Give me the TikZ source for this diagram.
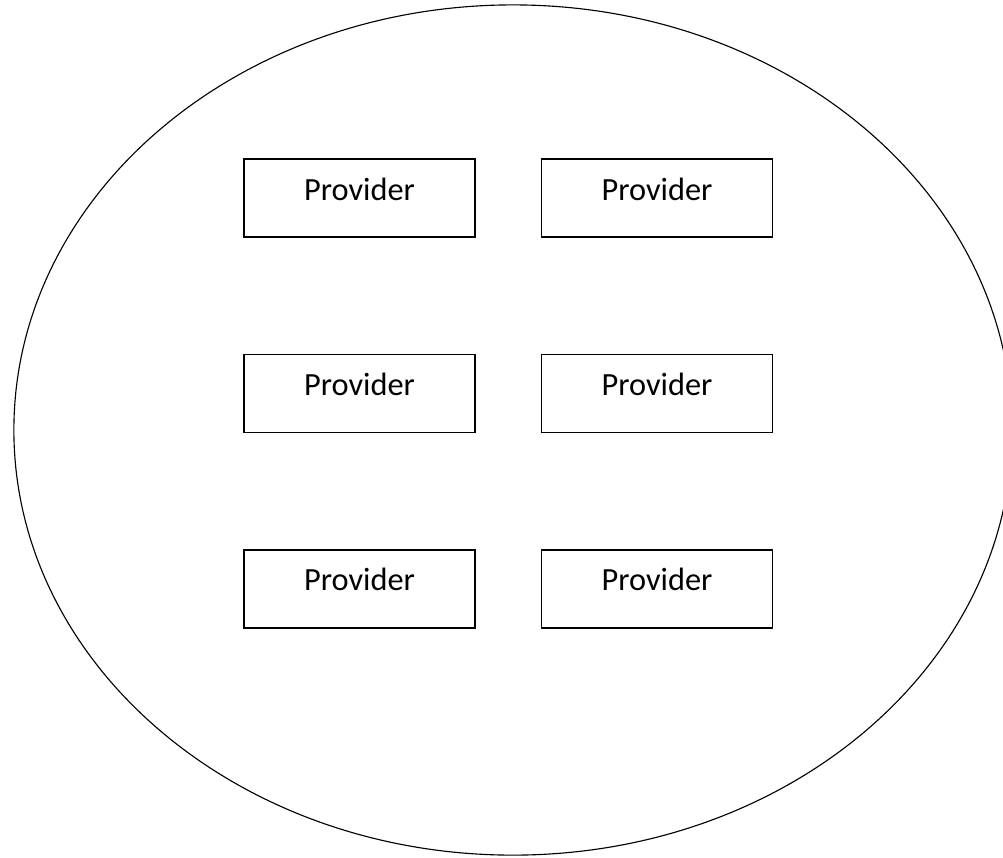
\documentclass[tikz,border=0pt]{standalone}
\usepackage{fontspec}
\setmainfont{Carlito}
\usetikzlibrary{positioning}
\usetikzlibrary{shapes.geometric}

\tikzset{
	provbox/.style={draw, line width=1pt, rectangle, minimum width=5.775cm, minimum height=1.95cm,
		inner sep=0pt, text height=0.4cm, text depth=0.3cm, font=\fontsize{23}{27}\selectfont},
}

\begin{document}
\begin{tikzpicture}[x=0.025cm, y=-0.025cm]
		\useasboundingbox (0,0) rectangle (1003,857);
		\clip (0,0) rectangle (1003,857);
		\node [draw, ellipse, line width=0.8pt, inner sep=0pt, minimum width=24.95cm, minimum height=21.25cm] at (513,430) (pool) {};

		\node [provbox] at (359.5,198) (prov1) {Provider};
		\node [provbox, right=1.625cm of prov1] (prov2) {Provider};
		\node [provbox, below=2.9cm of prov1] (prov3) {Provider};
		\node [provbox, right=1.625cm of prov3] (prov4) {Provider};
		\node [provbox, below=2.9cm of prov3] (prov5) {Provider};
		\node [provbox, right=1.625cm of prov5] (prov6) {Provider};
		\end{tikzpicture}
\end{document}
